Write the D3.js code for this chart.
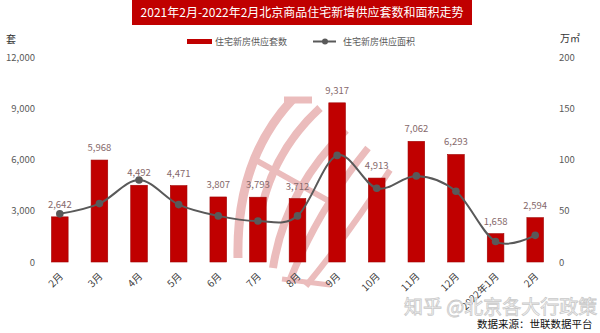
<!DOCTYPE html>
<html><head><meta charset="utf-8">
<script src="https://cdn.jsdelivr.net/npm/d3@7"></script>
<style>
body{margin:0;background:#fff;}
svg{display:block;font-family:"Noto Sans CJK SC","Noto Sans",sans-serif;}
</style></head>
<body><svg id="c" width="600" height="333"></svg>
<script>
const categories = ['2月','3月','4月','5月','6月','7月','8月','9月','10月','11月','12月','2022年1月','2月'];
const units = [2642,5968,4492,4471,3807,3793,3712,9317,4913,7062,6293,1658,2594];
const area = [47,57,80,56,45,40,45,104,72,84,69,20,26];
const leftTicks = [0,3000,6000,9000,12000];
const rightTicks = [0,50,100,150,200];
const title = '2021年2月-2022年2月北京商品住宅新增供应套数和面积走势';
const seriesNames = ['住宅新房供应套数','住宅新房供应面积'];

const svg = d3.select('#c');
const red = '#C00000', grey = '#595959', txt = '#595959';
const idx = d3.range(categories.length);
const x = d3.scaleBand().domain(idx).range([40,555]).paddingInner(0.58).paddingOuter(0.29);
const yL = d3.scaleLinear().domain([0,12000]).range([262,57]);
const yR = d3.scaleLinear().domain([0,200]).range([262,57]);

// title banner
svg.append('rect').attr('x',132).attr('y',0).attr('width',340).attr('height',25).attr('fill',red);
svg.append('text').attr('x',302).attr('y',17).attr('text-anchor','middle').attr('fill','#fff')
  .attr('font-size',12).text(title);

// watermark logo (decorative)
const wm = svg.append('g').attr('fill','none').attr('stroke','#ebbcbc').attr('stroke-linecap','butt');
[['M238,258 Q236,160 292,100',9],['M284,100 L312,100',7],
 ['M256,255 Q258,165 320,108',8],['M273,268 Q285,190 346,130',8],
 ['M290,280 Q318,210 368,148',7],['M306,286 Q348,235 390,170',6],
 ['M252,158 L336,205',6],['M282,279 L330,285',5]].forEach(([d,w])=>{
  wm.append('path').attr('d',d).attr('stroke-width',w);
});

// axes
const axL = svg.append('g').attr('transform','translate(35,0)')
  .call(d3.axisLeft(yL).tickValues(leftTicks).tickSize(0).tickPadding(0).tickFormat(d3.format(',')));
const axR = svg.append('g').attr('transform','translate(559,0)')
  .call(d3.axisRight(yR).tickValues(rightTicks).tickSize(0).tickPadding(0));
[axL,axR].forEach(a=>{a.select('.domain').remove();
  a.selectAll('text').attr('fill',txt).attr('font-size',9.5).attr('font-family','"Noto Sans CJK SC",sans-serif');});
svg.append('text').attr('x',6).attr('y',43).attr('font-size',10).attr('fill','#333').text('套');
svg.append('text').attr('x',560).attr('y',42).attr('font-size',10).attr('fill','#333').text('万㎡');

// bars
svg.append('g').selectAll('rect').data(idx).join('rect')
  .attr('x',i=>x(i)).attr('width',x.bandwidth())
  .attr('y',i=>yL(units[i])).attr('height',i=>yL(0)-yL(units[i]))
  .attr('fill',red).attr('stroke','#a00000').attr('stroke-width',0.6);

// bar labels
svg.append('g').selectAll('text').data(idx).join('text')
  .attr('x',i=>x(i)+x.bandwidth()/2).attr('y',i=>yL(units[i])-9)
  .attr('text-anchor','middle').attr('font-size',9.5).attr('fill','#86696b')
  .text(i=>d3.format(',')(units[i]));

// line
const line = d3.line().x(i=>x(i)+x.bandwidth()/2).y(i=>yR(area[i])).curve(d3.curveCardinal);
svg.append('path').attr('d',line(idx)).attr('fill','none').attr('stroke',grey).attr('stroke-width',2);
svg.append('g').selectAll('circle').data(idx).join('circle')
  .attr('cx',i=>x(i)+x.bandwidth()/2).attr('cy',i=>yR(area[i])).attr('r',3.8).attr('fill',grey);

// x labels
svg.append('g').selectAll('text').data(idx).join('text')
  .attr('transform',i=>`translate(${x(i)+x.bandwidth()/2-1},${272}) rotate(-45)`)
  .attr('text-anchor','end').attr('dy','0.7em').attr('font-size',10).attr('fill','#404040')
  .text(i=>categories[i]);

// legend
svg.append('rect').attr('x',187).attr('y',39).attr('width',25).attr('height',5).attr('fill',red);
svg.append('text').attr('x',215).attr('y',45).attr('font-size',9).attr('fill',txt).text(seriesNames[0]);
svg.append('line').attr('x1',313).attr('x2',336).attr('y1',41.5).attr('y2',41.5).attr('stroke',grey).attr('stroke-width',2);
svg.append('circle').attr('cx',325).attr('cy',41.5).attr('r',3).attr('fill',grey);
svg.append('text').attr('x',343).attr('y',45).attr('font-size',9).attr('fill',txt).text(seriesNames[1]);

// watermark text + source
svg.append('text').attr('x',404).attr('y',314).attr('font-size',19).attr('fill','#fff')
  .attr('stroke','#c8c8c8').attr('stroke-width',0.8).text('知乎 @北京各大行政策');
svg.append('text').attr('x',477).attr('y',328).attr('font-size',10.5).attr('fill','#111').text('数据来源：世联数据平台');
</script></body></html>
